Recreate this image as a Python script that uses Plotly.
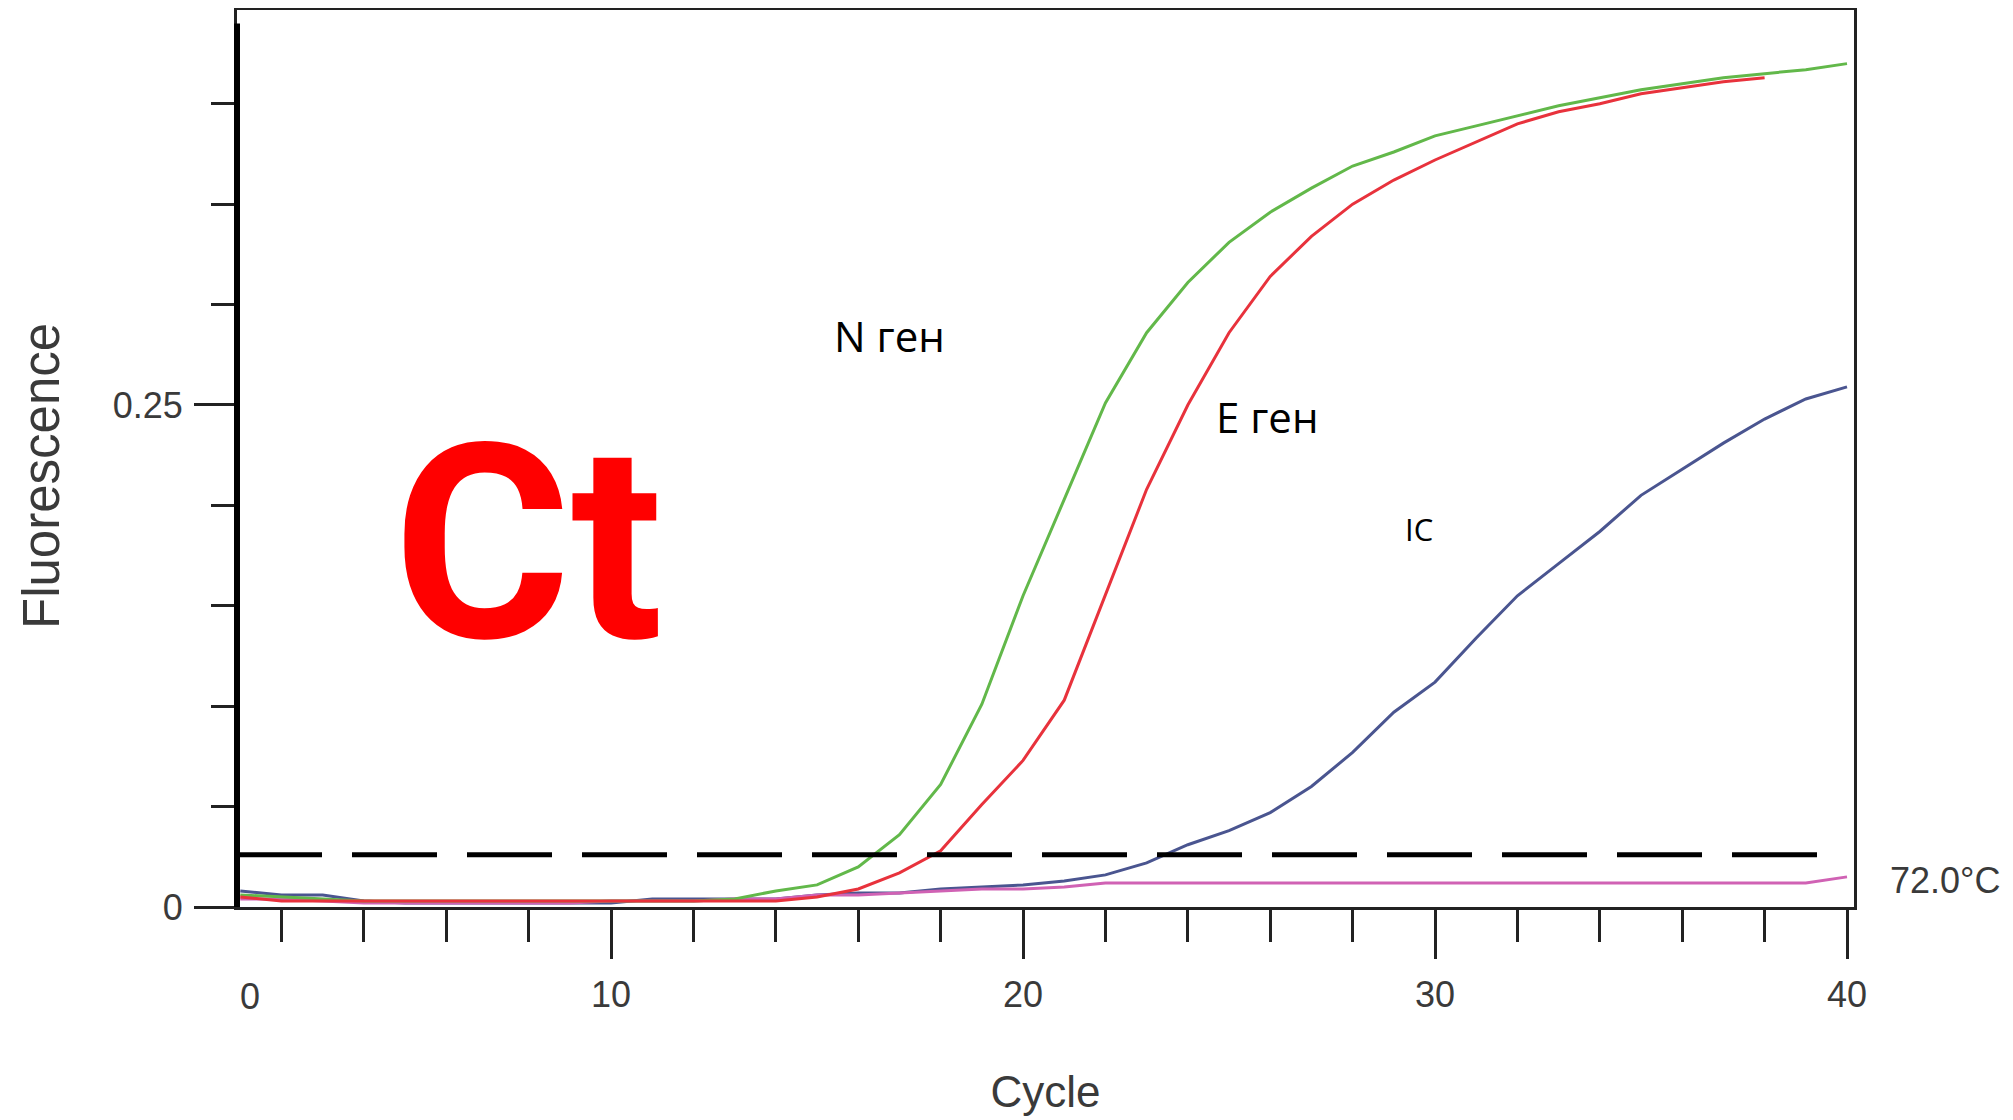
import plotly.graph_objects as go

# ---------------- data ----------------
cycles = list(range(1, 41))

n_gene = [0.006, 0.005, 0.004, 0.003, 0.003, 0.003, 0.003, 0.003, 0.003, 0.003,
          0.003, 0.003, 0.004, 0.008, 0.011, 0.020, 0.036, 0.061, 0.101, 0.155,
          0.203, 0.251, 0.286, 0.311, 0.331, 0.346, 0.358, 0.369, 0.376, 0.384,
          0.389, 0.394, 0.399, 0.403, 0.407, 0.410, 0.413, 0.415, 0.417, 0.420]

e_cycles = list(range(1, 39))
e_gene = [0.005, 0.003, 0.003, 0.003, 0.003, 0.003, 0.003, 0.003, 0.003, 0.003,
          0.003, 0.003, 0.003, 0.003, 0.005, 0.009, 0.017, 0.028, 0.051, 0.073,
          0.103, 0.155, 0.208, 0.250, 0.286, 0.314, 0.334, 0.350, 0.362, 0.372,
          0.381, 0.390, 0.396, 0.400, 0.405, 0.408, 0.411, 0.413]

ic = [0.008, 0.006, 0.006, 0.003, 0.002, 0.002, 0.002, 0.002, 0.002, 0.002,
      0.004, 0.004, 0.004, 0.004, 0.006, 0.007, 0.007, 0.009, 0.010, 0.011,
      0.013, 0.016, 0.022, 0.031, 0.038, 0.047, 0.060, 0.077, 0.097, 0.112,
      0.134, 0.155, 0.171, 0.187, 0.205, 0.218, 0.231, 0.243, 0.253, 0.259]

pink = [0.004, 0.004, 0.003, 0.002, 0.002, 0.002, 0.002, 0.002, 0.002, 0.003,
        0.003, 0.003, 0.004, 0.004, 0.006, 0.006, 0.007, 0.008, 0.009, 0.009,
        0.010, 0.012, 0.012, 0.012, 0.012, 0.012, 0.012, 0.012, 0.012, 0.012,
        0.012, 0.012, 0.012, 0.012, 0.012, 0.012, 0.012, 0.012, 0.012, 0.015]

threshold = 0.026
threshold_span = [0.92, 39.4]

x_range = [0.92, 40.17]
y_range = [0, 0.4467]
x_zero_label_pos = 1.24

# ---------------- figure ----------------
fig = go.Figure()

fig.add_trace(go.Scatter(x=cycles, y=ic, mode="lines",
                         line=dict(color="#4a5590", width=3), name="IC"))
fig.add_trace(go.Scatter(x=cycles, y=pink, mode="lines",
                         line=dict(color="#d062b4", width=3), name="pink"))
fig.add_trace(go.Scatter(x=cycles, y=n_gene, mode="lines",
                         line=dict(color="#62b84a", width=3), name="N ген"))
fig.add_trace(go.Scatter(x=e_cycles, y=e_gene, mode="lines",
                         line=dict(color="#e8323c", width=3), name="E ген"))
fig.add_trace(go.Scatter(x=threshold_span, y=[threshold, threshold], mode="lines",
                         line=dict(color="black", width=5, dash="85px,30px"),
                         name="threshold"))

FONT = "Liberation Sans, Arial, sans-serif"
axis_font = dict(family=FONT, size=36, color="#3a3a3a")

# page body adds an 8px offset, margins compensate for it
fig.update_layout(
    width=2013, height=1120,
    margin=dict(l=229, r=167, t=2, b=221, autoexpand=False),
    paper_bgcolor="white", plot_bgcolor="white",
    showlegend=False,
    xaxis=dict(
        range=x_range, showgrid=False, zeroline=False,
        showline=True, linecolor="#222", linewidth=3, mirror=True,
        tickmode="linear", tick0=0, dtick=10,
        ticks="outside", ticklen=49, tickwidth=3, tickcolor="#222",
        tickfont=axis_font, ticklabelstandoff=5,
        minor=dict(dtick=2, tick0=0, ticks="outside", ticklen=32, tickwidth=3,
                   tickcolor="#222", showgrid=False),
        title=dict(text="Cycle", font=dict(family=FONT, size=44, color="#3a3a3a"), standoff=62),
        automargin=False,
    ),
    yaxis=dict(
        range=y_range, showgrid=False, zeroline=False,
        showline=True, linecolor="#222", linewidth=3, mirror=True,
        tickmode="linear", tick0=0, dtick=0.25,
        ticks="outside", ticklen=40, tickwidth=3, tickcolor="#222",
        tickfont=axis_font, ticklabelstandoff=4,
        minor=dict(dtick=0.05, tick0=0, ticks="outside", ticklen=23, tickwidth=3,
                   tickcolor="#222", showgrid=False),
        automargin=False,
    ),
)

# y axis title (placed as rotated text to match vertical position)
fig.add_annotation(x=0, y=0.4805, xref="paper", yref="paper", text="Fluorescence",
                   textangle=-90, showarrow=False, xanchor="center", yanchor="middle",
                   xshift=-195, borderpad=0,
                   font=dict(family=FONT, size=51, color="#3a3a3a"))

# thick left axis line
fig.add_shape(type="line", xref="paper", yref="paper", x0=0, x1=0, y0=0, y1=0.985,
              line=dict(color="black", width=6), layer="above")

# "0" label of x axis (clipped tick position in original)
fig.add_annotation(x=x_zero_label_pos, y=0, xref="x", yref="y", text="0",
                   showarrow=False, xanchor="center", yanchor="top", yshift=-67,
                   font=axis_font)

# temperature label
fig.add_annotation(x=1.0, y=0.0134, xref="paper", yref="y", text="72.0°C",
                   showarrow=False, xanchor="left", xshift=34,
                   font=dict(family=FONT, size=36, color="#3a3a3a"))

# curve labels
lab_font = dict(family="Open Sans, sans-serif", size=42, color="black")
fig.add_annotation(x=0.4038, y=0.6366, xref="paper", yref="paper", text="N ген",
                   showarrow=False, xanchor="center", yanchor="middle", font=lab_font)
fig.add_annotation(x=0.6376, y=0.5463, xref="paper", yref="paper", text="E ген",
                   showarrow=False, xanchor="center", yanchor="middle", font=lab_font)
fig.add_annotation(x=0.731, y=0.4214, xref="paper", yref="paper", text="IC",
                   showarrow=False, xanchor="center", yanchor="middle",
                   font=dict(family="Open Sans, sans-serif", size=31, color="black"))

# big Ct
fig.add_annotation(x=0.18, y=0.405, xref="paper", yref="paper", text="<b>Ct</b>",
                   showarrow=False, xanchor="center", yanchor="middle",
                   font=dict(family="Roboto, Open Sans, sans-serif", size=272, color="#ff0000"))

fig.write_html("out.html")
